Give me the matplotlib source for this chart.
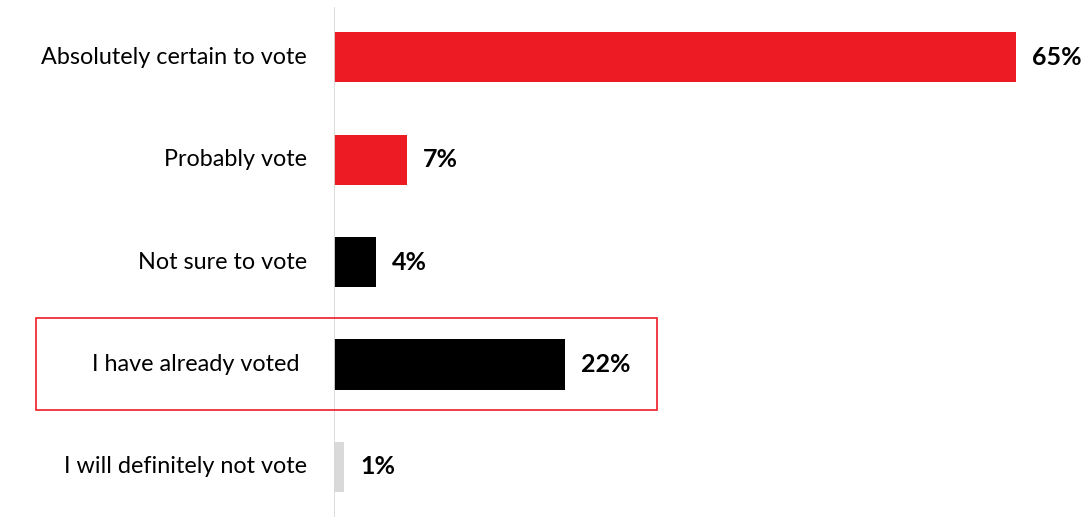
import matplotlib
matplotlib.use('Agg')
import matplotlib.pyplot as plt
from matplotlib.patches import Rectangle

# Survey answers and shares (%)
categories = ['Absolutely certain to vote', 'Probably vote', 'Not sure to vote',
              'I have already voted', 'I will definitely not vote']
values = [65, 7, 4, 22, 1]
colors = ['#ED1C24', '#ED1C24', '#000000', '#000000', '#D9D9D9']

plt.rcParams['font.family'] = ['Lato', 'DejaVu Sans']

fig = plt.figure(figsize=(10.87, 5.17), dpi=100)
ax = fig.add_axes([334 / 1087, 0, (1016 - 334) / 1087, 1 - 7 / 517])

y = range(len(categories))
ax.barh(y, values, height=0.49, color=colors)
ax.set_xlim(0, 65)
ax.set_ylim(4.49, -0.49)

for i, (cat, v) in enumerate(zip(categories, values)):
    # the highlighted label sits a bit further left in the original
    off = -3.25 if i == 3 else -2.55
    ax.text(off, i, cat, ha='right', va='center', fontsize=16.8, color='#000000')
    ax.text(v + 1.5, i, f'{v}%', ha='left', va='center', fontsize=18,
            fontweight='bold', color='#000000', clip_on=False)

ax.axvline(0, color='#D9D9D9', lw=1.3)
for s in ax.spines.values():
    s.set_visible(False)
ax.set_xticks([])
ax.set_yticks([])

# highlight box around "already voted"
fig.patches.append(Rectangle((36 / 1087, 1 - 410 / 517), (657 - 36) / 1087, 92 / 517,
                             transform=fig.transFigure, fill=False,
                             edgecolor='#ED1C24', lw=1.2))

plt.savefig('out.png', dpi=100)
plt.close()
